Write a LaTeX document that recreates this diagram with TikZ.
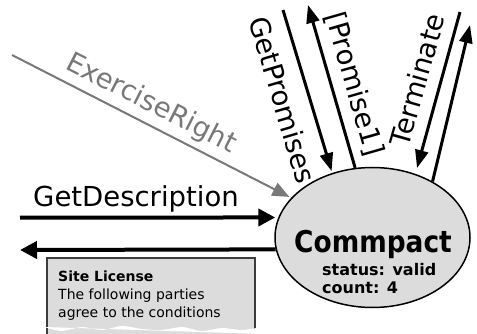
\documentclass[tikz,border=0pt]{standalone}
\usepackage{fontspec}
\setmainfont{DejaVu Sans}
\newfontfamily\fontcomm[FakeStretch=0.88]{DejaVu Sans}
\usepackage{tikz}
\usetikzlibrary{arrows.meta, shapes.geometric}

\definecolor{grisdeschis}{HTML}{DCDCDC}
\definecolor{grismediu}{HTML}{787878}
\definecolor{grisinchis}{HTML}{3C3C3C}

\begin{document}
\begin{tikzpicture}[x=1pt, y=-1pt]
        \tikzstyle{every node} = [inner sep=0pt]
        \tikzstyle{eticheta}   = [font=\fontsize{27.5}{30}\selectfont]
        \tikzstyle{sageata}    = [line width=4pt, -{Triangle[length=17pt, width=17pt]}]
        \tikzstyle{sagsus}     = [line width=3pt, -{Triangle[length=18pt, width=13pt]}]
        \tikzstyle{sagexer}    = [line width=2pt, draw=grismediu, -{Triangle[length=17pt, width=14pt]}]
        \tikzstyle{contract}   = [ellipse, draw, line width=1.5pt, fill=grisdeschis,
                                  minimum width=195pt, minimum height=140pt]
        \tikzstyle{licenta}    = [draw=grisinchis, line width=1.5pt, fill=grisdeschis]

        \useasboundingbox (0,0) rectangle (477,334);

        % Contractul.
        \node[contract] (comm) at (372.5,237.5) {};
        \node[anchor=base, font=\fontcomm\fontsize{30}{32}\selectfont\bfseries] (numecomm) at (373,252) {Commpact};
        \node[anchor=base west, font=\fontsize{16}{18}\selectfont\bfseries] (stare) at (322,275) {status: valid};
        \node[anchor=base west, font=\fontsize{16}{18}\selectfont\bfseries] (numar) at (322,293) {count: 4};

        % Capetele libere ale sagetilor.
        \coordinate (capdesc)  at (20,217.6);
        \coordinate (capret)   at (20,250);
        \coordinate (capexer)  at (12,55);
        \coordinate (capprom)  at (283,10);
        \coordinate (capprom1) at (308,5);
        \coordinate (capterm)  at (460,12);
        \coordinate (caprasp)  at (470,25);

        \draw[sageata, shorten >=3pt] (capdesc) -- (comm.168);
        \draw[sageata] (comm.187.4) -- (capret);
        \draw[sagexer, shorten >=2pt] (capexer) -- (comm.154);
        \draw[sagsus, shorten >=2pt] (capprom) -- (comm.122.5);
        \draw[sagsus] (comm.104.5) -- (capprom1);
        \draw[sagsus, shorten >=6pt] (capterm) -- (comm.56);
        \draw[sagsus] (comm.43) -- (caprasp);

        % Etichetele.
        \node[eticheta, anchor=base west] (etdesc) at (33,207) {GetDescription};
        \node[eticheta, text=grismediu, rotate=-27] (etexer) at (151,104) {ExerciseRight};
        \node[eticheta, rotate=-73.5] (etprom) at (283,100) {GetPromises};
        \node[eticheta, rotate=-74] (etprom1) at (354,84) {[Promise1]};
        \node[eticheta, rotate=74] (etterm) at (417,80) {Terminate};

        % Licenta, cu marginea de jos rupta.
        \draw[licenta] (47,258) rectangle (255,345);
        \node[anchor=north west, align=left, font=\fontsize{14}{18}\selectfont] (textlic) at (58,270.4)
            {\textbf{Site License}\\The following parties\\agree to the conditions};
        \fill[white] (40,334) -- (40,327) plot[smooth] coordinates {(44,327) (62,331) (82,327) (102,330)
            (122,326) (142,329) (162,330) (182,327) (202,331) (222,328) (242,330) (262,327)} -- (262,334) -- cycle;
\end{tikzpicture}
\end{document}
